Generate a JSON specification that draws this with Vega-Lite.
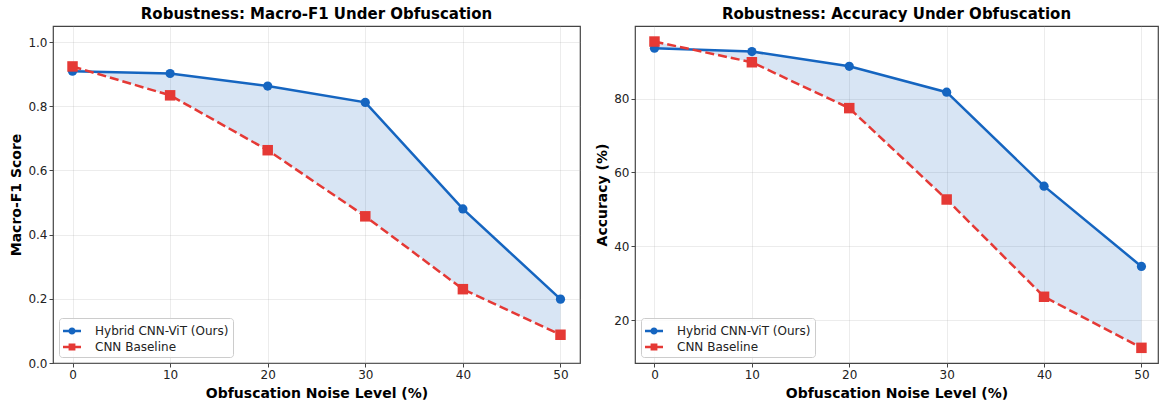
{
  "$schema": "https://vega.github.io/schema/vega-lite/v6.json",
  "padding": {"left": 9, "top": 6, "right": 0, "bottom": 1},
  "background": "white",
  "data": {"values": [
    {"noise": 0, "model": "Hybrid CNN-ViT (Ours)", "f1": 0.909, "acc": 93.6},
    {"noise": 10, "model": "Hybrid CNN-ViT (Ours)", "f1": 0.902, "acc": 92.7},
    {"noise": 20, "model": "Hybrid CNN-ViT (Ours)", "f1": 0.863, "acc": 88.7},
    {"noise": 30, "model": "Hybrid CNN-ViT (Ours)", "f1": 0.812, "acc": 81.7},
    {"noise": 40, "model": "Hybrid CNN-ViT (Ours)", "f1": 0.480, "acc": 56.3},
    {"noise": 50, "model": "Hybrid CNN-ViT (Ours)", "f1": 0.199, "acc": 34.6},
    {"noise": 0, "model": "CNN Baseline", "f1": 0.924, "acc": 95.4},
    {"noise": 10, "model": "CNN Baseline", "f1": 0.834, "acc": 89.8},
    {"noise": 20, "model": "CNN Baseline", "f1": 0.663, "acc": 77.4},
    {"noise": 30, "model": "CNN Baseline", "f1": 0.457, "acc": 52.7},
    {"noise": 40, "model": "CNN Baseline", "f1": 0.230, "acc": 26.4},
    {"noise": 50, "model": "CNN Baseline", "f1": 0.088, "acc": 12.6}
  ]},
  "hconcat": [
    {
      "width": 527,
      "height": 337,
      "title": "Robustness: Macro-F1 Under Obfuscation",
      "encoding": {
        "x": {"field": "noise", "type": "quantitative", "scale": {"domain": [-2, 52], "nice": false, "zero": false},
              "axis": {"values": [0, 10, 20, 30, 40, 50], "title": "Obfuscation Noise Level (%)"}}
      },
      "layer": [
        {
          "transform": [{"pivot": "model", "value": "f1", "groupby": ["noise"]}],
          "mark": {"type": "area", "color": "#1565C0", "opacity": 0.17},
          "encoding": {
            "y": {"field": "CNN Baseline", "type": "quantitative", "title": "Macro-F1 Score",
                  "scale": {"domain": [0, 1.05], "nice": false},
                  "axis": {"values": [0, 0.2, 0.4, 0.6, 0.8, 1.0], "format": ".1f"}},
            "y2": {"field": "Hybrid CNN-ViT (Ours)"}
          }
        },
        {
          "transform": [{"filter": "datum.model === 'Hybrid CNN-ViT (Ours)'"}],
          "mark": {"type": "line", "color": "#1565C0", "strokeWidth": 2.5},
          "encoding": {"y": {"field": "f1", "type": "quantitative", "title": "Macro-F1 Score"}}
        },
        {
          "transform": [{"filter": "datum.model === 'Hybrid CNN-ViT (Ours)'"}],
          "mark": {"type": "point", "shape": "circle", "filled": true, "color": "#1565C0", "opacity": 1, "size": 85},
          "encoding": {"y": {"field": "f1", "type": "quantitative", "title": "Macro-F1 Score"}}
        },
        {
          "transform": [{"filter": "datum.model === 'CNN Baseline'"}],
          "mark": {"type": "line", "color": "#E53935", "strokeWidth": 2.5, "strokeDash": [9, 4]},
          "encoding": {"y": {"field": "f1", "type": "quantitative", "title": "Macro-F1 Score"}}
        },
        {
          "transform": [{"filter": "datum.model === 'CNN Baseline'"}],
          "mark": {"type": "point", "shape": "square", "filled": true, "color": "#E53935", "opacity": 1, "size": 110},
          "encoding": {"y": {"field": "f1", "type": "quantitative", "title": "Macro-F1 Score"}}
        },
        {
          "mark": {"type": "point", "filled": true, "opacity": 0},
          "encoding": {
            "y": {"field": "f1", "type": "quantitative", "title": "Macro-F1 Score"},
            "color": {"field": "model", "type": "nominal",
                      "scale": {"domain": ["Hybrid CNN-ViT (Ours)", "CNN Baseline"], "range": ["#1565C0", "#E53935"]},
                      "legend": {"title": null, "orient": "bottom-left", "offset": 6, "padding": 4, "strokeColor": "#cccccc",
                                 "fillColor": "rgba(255,255,255,0.8)", "cornerRadius": 3, "symbolSize": 324,
                                 "symbolStrokeWidth": 0, "symbolOpacity": 1, "labelFontSize": 12, "labelColor": "#222",
                                 "labelOffset": 14, "rowPadding": 1}},
            "shape": {"field": "model", "type": "nominal",
                      "scale": {"domain": ["Hybrid CNN-ViT (Ours)", "CNN Baseline"],
                                "range": ["M-1,-0.13H1V0.13H-1Z M0.4,0A0.4,0.4,0,1,1,-0.4,0A0.4,0.4,0,1,1,0.4,0Z",
                                          "M-1,-0.13H1V0.13H-1Z M-0.38,-0.38H0.38V0.38H-0.38Z"]},
                      "legend": {"title": null, "orient": "bottom-left", "offset": 6, "padding": 4, "strokeColor": "#cccccc",
                                 "fillColor": "rgba(255,255,255,0.8)", "cornerRadius": 3, "symbolSize": 324,
                                 "symbolStrokeWidth": 0, "symbolOpacity": 1, "labelFontSize": 12, "labelColor": "#222",
                                 "labelOffset": 14, "rowPadding": 1}}
          }
        }
      ]
    },
    {
      "width": 523,
      "height": 337,
      "title": "Robustness: Accuracy Under Obfuscation",
      "encoding": {
        "x": {"field": "noise", "type": "quantitative", "scale": {"domain": [-2, 51.7], "nice": false, "zero": false},
              "axis": {"values": [0, 10, 20, 30, 40, 50], "title": "Obfuscation Noise Level (%)"}}
      },
      "layer": [
        {
          "transform": [{"pivot": "model", "value": "acc", "groupby": ["noise"]}],
          "mark": {"type": "area", "color": "#1565C0", "opacity": 0.17},
          "encoding": {
            "y": {"field": "CNN Baseline", "type": "quantitative", "title": "Accuracy (%)",
                  "scale": {"domain": [8.5, 99.6], "nice": false, "zero": false},
                  "axis": {"values": [20, 40, 60, 80]}},
            "y2": {"field": "Hybrid CNN-ViT (Ours)"}
          }
        },
        {
          "transform": [{"filter": "datum.model === 'Hybrid CNN-ViT (Ours)'"}],
          "mark": {"type": "line", "color": "#1565C0", "strokeWidth": 2.5},
          "encoding": {"y": {"field": "acc", "type": "quantitative", "title": "Accuracy (%)"}}
        },
        {
          "transform": [{"filter": "datum.model === 'Hybrid CNN-ViT (Ours)'"}],
          "mark": {"type": "point", "shape": "circle", "filled": true, "color": "#1565C0", "opacity": 1, "size": 85},
          "encoding": {"y": {"field": "acc", "type": "quantitative", "title": "Accuracy (%)"}}
        },
        {
          "transform": [{"filter": "datum.model === 'CNN Baseline'"}],
          "mark": {"type": "line", "color": "#E53935", "strokeWidth": 2.5, "strokeDash": [9, 4]},
          "encoding": {"y": {"field": "acc", "type": "quantitative", "title": "Accuracy (%)"}}
        },
        {
          "transform": [{"filter": "datum.model === 'CNN Baseline'"}],
          "mark": {"type": "point", "shape": "square", "filled": true, "color": "#E53935", "opacity": 1, "size": 110},
          "encoding": {"y": {"field": "acc", "type": "quantitative", "title": "Accuracy (%)"}}
        },
        {
          "mark": {"type": "point", "filled": true, "opacity": 0},
          "encoding": {
            "y": {"field": "acc", "type": "quantitative", "title": "Accuracy (%)"},
            "color": {"field": "model", "type": "nominal",
                      "scale": {"domain": ["Hybrid CNN-ViT (Ours)", "CNN Baseline"], "range": ["#1565C0", "#E53935"]},
                      "legend": {"title": null, "orient": "bottom-left", "offset": 6, "padding": 4, "strokeColor": "#cccccc",
                                 "fillColor": "rgba(255,255,255,0.8)", "cornerRadius": 3, "symbolSize": 324,
                                 "symbolStrokeWidth": 0, "symbolOpacity": 1, "labelFontSize": 12, "labelColor": "#222",
                                 "labelOffset": 14, "rowPadding": 1}},
            "shape": {"field": "model", "type": "nominal",
                      "scale": {"domain": ["Hybrid CNN-ViT (Ours)", "CNN Baseline"],
                                "range": ["M-1,-0.13H1V0.13H-1Z M0.4,0A0.4,0.4,0,1,1,-0.4,0A0.4,0.4,0,1,1,0.4,0Z",
                                          "M-1,-0.13H1V0.13H-1Z M-0.38,-0.38H0.38V0.38H-0.38Z"]},
                      "legend": {"title": null, "orient": "bottom-left", "offset": 6, "padding": 4, "strokeColor": "#cccccc",
                                 "fillColor": "rgba(255,255,255,0.8)", "cornerRadius": 3, "symbolSize": 324,
                                 "symbolStrokeWidth": 0, "symbolOpacity": 1, "labelFontSize": 12, "labelColor": "#222",
                                 "labelOffset": 14, "rowPadding": 1}}
          }
        }
      ]
    }
  ],
  "resolve": {"scale": {"color": "independent", "shape": "independent"}, "legend": {"color": "independent", "shape": "independent"}},
  "spacing": 55,
  "bounds": "flush",
  "config": {
    "font": "DejaVu Sans",
    "view": {"stroke": "#444444", "strokeWidth": 1.2},
    "axis": {"domain": false, "grid": true, "gridColor": "#b0b0b0", "gridOpacity": 0.3, "gridWidth": 0.8,
             "tickColor": "#444444", "tickSize": 4, "tickWidth": 1, "labelFontSize": 12, "labelColor": "#222222",
             "titleFontSize": 14, "titleFontWeight": "bold", "titleColor": "#000000", "labelPadding": 2, "titlePadding": 4},
    "axisX": {"titlePadding": 6},
    "title": {"fontSize": 15, "fontWeight": "bold", "offset": 4, "color": "#000000"}
  }
}
